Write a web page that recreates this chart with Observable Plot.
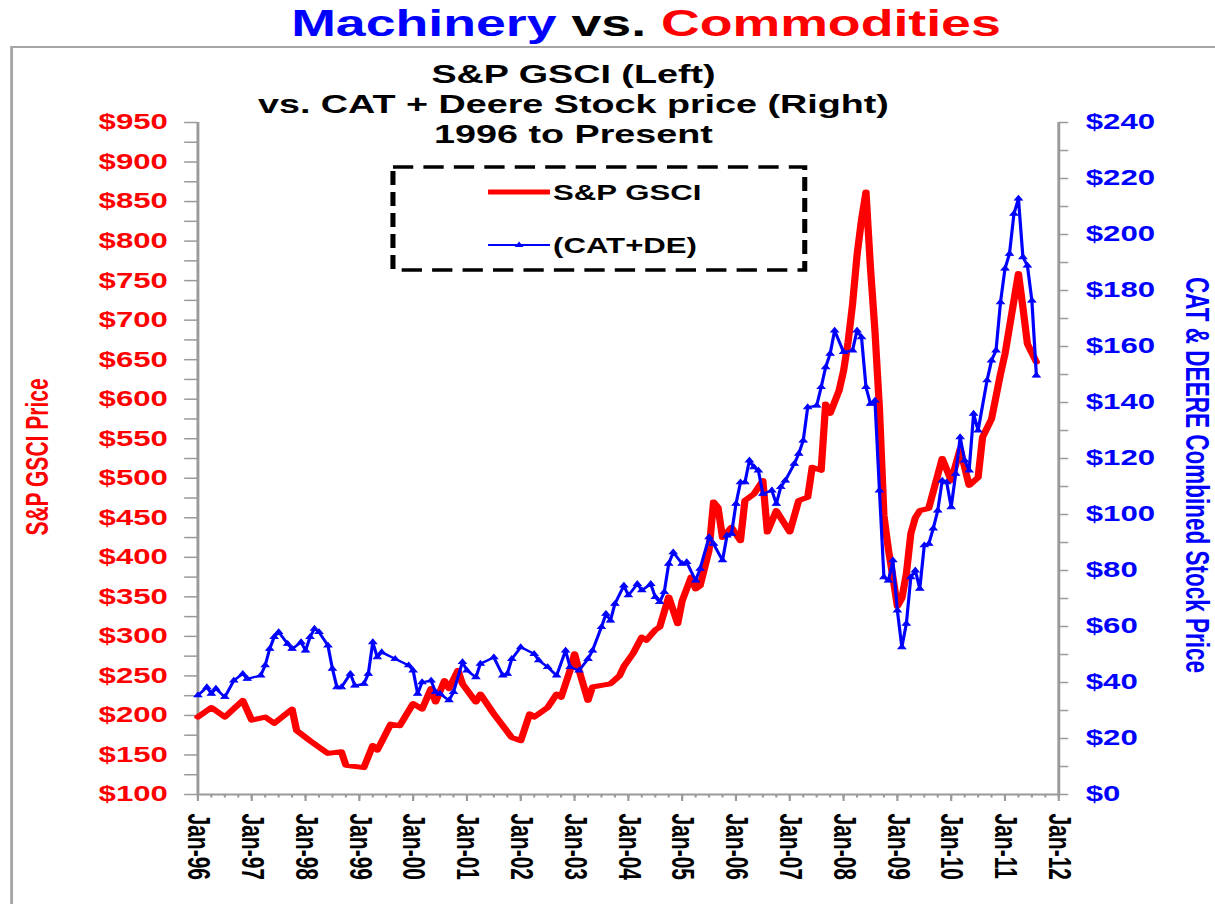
<!DOCTYPE html>
<html><head><meta charset="utf-8">
<script src="https://cdn.jsdelivr.net/npm/d3@7"></script>
<script src="https://cdn.jsdelivr.net/npm/@observablehq/plot@0.6"></script>
<style>
html,body{margin:0;padding:0;background:#fff;width:1215px;height:904px;overflow:hidden}
#page{position:absolute;left:0;top:0;width:838px;height:904px;transform:scaleX(1.45);transform-origin:0 0;font-family:Arial,"Liberation Sans",Helvetica,sans-serif;font-weight:bold;color:#000}
#title{position:absolute;left:0;top:2px;width:891px;text-align:center;font-size:37px;line-height:44px;white-space:nowrap}
#box{position:absolute;left:7px;top:46px;width:900px;height:900px;border:2px solid #a6a6a6;box-sizing:border-box}
#subtitle{position:absolute;left:0;top:59px;width:791px;text-align:center;font-size:26px;line-height:30px;white-space:nowrap}
#chart{position:absolute;left:0;top:46px}
#legend{position:absolute;left:268px;top:164px;overflow:visible}
.ytitle{position:absolute;white-space:nowrap;transform-origin:center center}
#ltitle{left:26px;top:457px;font-size:21px;color:#ff0000;transform:translate(-50%,-50%) rotate(-90deg)}
#rtitle{left:825px;top:475px;font-size:22.5px;color:#0000ff;transform:translate(-50%,-50%) rotate(90deg)}
</style></head>
<body><div id="page">
<div id="box"></div>
<div id="title"><span style="color:#0000ff">Machinery</span> vs. <span style="color:#ff0000">Commodities</span></div>
<div id="subtitle">S&amp;P GSCI (Left)<br>vs. CAT + Deere Stock price (Right)<br>1996 to Present</div>
<div id="chart"></div>
<svg id="legend" width="290" height="110">
<rect x="3" y="3" width="284" height="103" fill="none" stroke="#000" stroke-width="3.5" stroke-dasharray="14 7"/>
<line x1="68.6" x2="111.3" y1="28" y2="28" stroke="#ff0000" stroke-width="5"/>
<text x="113.4" y="35.6" font-size="21.5">S&amp;P GSCI</text>
<line x1="68.6" x2="111.3" y1="81" y2="81" stroke="#0000ff" stroke-width="2.2"/>
<path d="M90,77.5L93,83L87,83Z" fill="#0000ff"/>
<text x="113.4" y="88.6" font-size="21.5">(CAT+DE)</text>
</svg>
<div id="ltitle" class="ytitle">S&amp;P GSCI Price</div>
<div id="rtitle" class="ytitle">CAT &amp; DEERE Combined Stock Price</div>
</div>
<script>
// ---- data ----
const gsciMonths = ["1996-01","1996-04","1996-07","1996-11","1997-01","1997-04","1997-06","1997-10","1997-11","1998-02","1998-06","1998-09","1998-10","1999-02","1999-04","1999-05","1999-08","1999-10","2000-01","2000-03","2000-05","2000-06","2000-08","2000-09","2000-11","2000-12","2001-03","2001-04","2001-07","2001-11","2002-01","2002-03","2002-04","2002-07","2002-09","2002-10","2002-12","2003-01","2003-02","2003-04","2003-05","2003-07","2003-09","2003-11","2003-12","2004-02","2004-04","2004-05","2004-07","2004-08","2004-10","2004-12","2005-01","2005-03","2005-04","2005-05","2005-07","2005-08","2005-09","2005-10","2005-12","2006-02","2006-03","2006-05","2006-07","2006-08","2006-10","2007-01","2007-03","2007-05","2007-06","2007-08","2007-09","2007-10","2007-12","2008-01","2008-02","2008-03","2008-04","2008-05","2008-06","2008-07","2008-08","2008-09","2008-10","2008-11","2008-12","2009-01","2009-02","2009-03","2009-04","2009-05","2009-06","2009-08","2009-11","2010-01","2010-03","2010-05","2010-07","2010-08","2010-10","2010-12","2011-01","2011-03","2011-04","2011-05","2011-06","2011-08"];
const gsciValues = [198,210,198,219,194,198,190,208,181,168,152,154,137,134,162,156,189,187,215,208,234,217,244,234,257,240,217,227,202,172,168,202,198,210,227,223,257,278,257,219,236,238,240,250,262,278,299,295,308,312,350,316,345,375,360,364,409,470,463,425,438,421,472,480,497,432,459,432,472,476,514,510,594,582,611,636,672,720,782,827,862,766,686,588,453,410,375,338,348,379,430,450,459,462,525,497,537,491,501,552,575,632,657,725,759,716,670,647];

const catdeMonths = ["1996-01","1996-03","1996-04","1996-05","1996-07","1996-09","1996-11","1996-12","1997-03","1997-04","1997-05","1997-06","1997-07","1997-09","1997-10","1997-12","1998-01","1998-02","1998-03","1998-04","1998-06","1998-07","1998-08","1998-09","1998-11","1998-12","1999-02","1999-03","1999-04","1999-05","1999-06","1999-09","1999-12","2000-01","2000-02","2000-03","2000-05","2000-06","2000-07","2000-09","2000-10","2000-12","2001-01","2001-03","2001-04","2001-07","2001-09","2001-10","2001-11","2002-01","2002-04","2002-05","2002-07","2002-09","2002-11","2002-12","2003-02","2003-04","2003-05","2003-07","2003-08","2003-09","2003-10","2003-12","2004-01","2004-03","2004-04","2004-06","2004-07","2004-08","2004-09","2004-10","2004-11","2005-01","2005-02","2005-04","2005-05","2005-07","2005-08","2005-10","2005-11","2005-12","2006-01","2006-02","2006-03","2006-04","2006-05","2006-06","2006-07","2006-09","2006-10","2006-11","2006-12","2007-02","2007-03","2007-04","2007-05","2007-07","2007-08","2007-09","2007-10","2007-11","2008-01","2008-03","2008-04","2008-05","2008-06","2008-07","2008-08","2008-09","2008-10","2008-11","2008-12","2009-01","2009-02","2009-03","2009-04","2009-05","2009-06","2009-07","2009-08","2009-09","2009-10","2009-11","2009-12","2010-01","2010-02","2010-03","2010-04","2010-05","2010-06","2010-07","2010-09","2010-10","2010-11","2010-12","2011-01","2011-02","2011-03","2011-04","2011-05","2011-06","2011-07","2011-08"];
const catdeValues = [35.4,38.3,36,37.8,34.8,40.7,43.1,41.3,42.5,46.1,52,56.2,58,53.8,52,54.4,51.4,56.2,59.2,58,53.2,44.9,38.3,38.3,43.1,38.9,39.5,43.1,54.4,49,50.8,48.4,46.1,44.3,36,40.1,40.7,36.6,36,33.6,36.6,47.3,44.3,41.9,46.7,49,42.5,43.1,48.4,52.6,50.2,47.9,45.5,42.5,51.4,45.5,44.3,48.4,51.4,59.8,64.5,62.1,68.1,74.6,71.1,75.2,72.9,75.2,70.5,68.7,72.3,82.4,86.5,82.4,83,76.4,80.6,91.9,89.5,83.6,92.5,93.1,103.8,111.5,111.5,119.3,116.9,115.7,107.4,108.6,103.8,109.8,112.1,118.1,121.7,126.4,138.3,138.9,145.5,152.6,157.4,165.7,158,158.6,165.7,163.3,145.5,139.5,140.7,108.6,77.6,76.4,83.6,65.7,52.6,61,77.6,80,73.5,89,89.5,95,101.4,112.1,111.5,102.6,114.5,127.6,119.3,115.7,136,130,147.9,155,158.6,175.8,187.8,193.1,207.4,212.8,191.9,188.9,176.4,149.6];

const xTickYears = [1996,1997,1998,1999,2000,2001,2002,2003,2004,2005,2006,2007,2008,2009,2010,2011,2012];
const xTickLabels = ["Jan-96","Jan-97","Jan-98","Jan-99","Jan-00","Jan-01","Jan-02","Jan-03","Jan-04","Jan-05","Jan-06","Jan-07","Jan-08","Jan-09","Jan-10","Jan-11","Jan-12"];
const leftDomain = [100, 950];
const rightDomain = [0, 240];
const leftLabelTicks = d3.range(100, 951, 50);
const leftMinorTicks = d3.range(100, 951, 25);
const rightLabelTicks = d3.range(0, 241, 20);
const rightMinorTicks = d3.range(0, 241, 10);

// ---- build ----
const toT = s => { const [y, m] = s.split("-").map(Number); return y + (m - 1) / 12; };
const gsci = gsciMonths.map((d, i) => ({t: toT(d), v: gsciValues[i]}));
const catde = catdeMonths.map((d, i) => ({t: toT(d), v: catdeValues[i]}));
const r2l = v => leftDomain[0] + (v - rightDomain[0]) * (leftDomain[1] - leftDomain[0]) / (rightDomain[1] - rightDomain[0]);
const l2r = v => rightDomain[0] + (v - leftDomain[0]) * (rightDomain[1] - rightDomain[0]) / (leftDomain[1] - leftDomain[0]);
const quarters = d3.range(0, 16 * 4 + 1).map(q => 1996 + q / 4);
const gray = "#9a9a9a";

const chart = Plot.plot({
  width: 838, height: 858,
  marginLeft: 136, marginRight: 108.3, marginTop: 76, marginBottom: 110,
  x: {type: "linear", domain: [1996, 2012]},
  y: {type: "linear", domain: leftDomain},
  style: {fontFamily: "Arial, 'Liberation Sans', Helvetica, sans-serif", fontWeight: "bold", fontSize: "21.5px", background: "transparent", overflow: "visible"},
  marks: [
    Plot.axisY(leftMinorTicks, {anchor: "left", tickSize: 9, stroke: gray, strokeWidth: 1.5, fill: "none", label: null}),
    Plot.axisY(leftLabelTicks, {anchor: "left", tickSize: 0, tickPadding: 20.7, stroke: "none", fill: "#ff0000", tickFormat: d => "$" + d, label: null, fontSize: 21.5}),
    Plot.axisY(rightMinorTicks.map(r2l), {anchor: "right", tickSize: 6, stroke: gray, strokeWidth: 1.5, fill: "none", label: null}),
    Plot.axisY(rightLabelTicks.map(r2l), {anchor: "right", tickSize: 0, tickPadding: 18.6, stroke: "none", fill: "#0000ff", tickFormat: d => "$" + Math.round(l2r(d)), label: null, fontSize: 21.5}),
    Plot.axisX(quarters, {anchor: "bottom", tickSize: 3.5, stroke: gray, strokeWidth: 1.5, fill: "none", label: null}),
    Plot.axisX(xTickYears, {anchor: "bottom", tickSize: 7, stroke: gray, strokeWidth: 1.5, fill: "#000", tickRotate: 90, tickPadding: 12, tickFormat: d => xTickLabels[xTickYears.indexOf(Math.round(d))], label: null, fontSize: 21}),
    Plot.ruleX([1996, 2012], {y1: leftDomain[0], y2: leftDomain[1], stroke: gray, strokeWidth: 2}),
    Plot.ruleY([leftDomain[0]], {x1: 1996, x2: 2012, stroke: gray, strokeWidth: 2}),
    Plot.line(gsci, {x: "t", y: "v", stroke: "#ff0000", strokeWidth: 5, strokeLinejoin: "round"}),
    Plot.line(catde, {x: "t", y: d => r2l(d.v), stroke: "#0000ff", strokeWidth: 2.2}),
    Plot.dot(catde, {x: "t", y: d => r2l(d.v), symbol: "triangle", r: 2, fill: "#0000ff", stroke: "#0000ff", strokeWidth: 0.8})
  ]
});
document.getElementById("chart").appendChild(chart);
</script>
</body></html>
